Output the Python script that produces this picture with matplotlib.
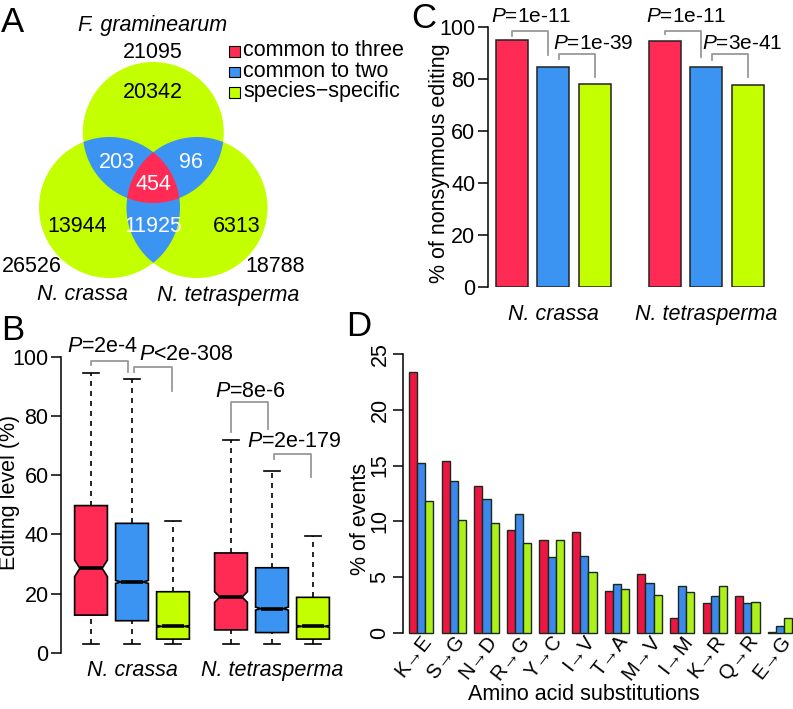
import numpy as np
import matplotlib
matplotlib.use("Agg")
import matplotlib.pyplot as plt
import matplotlib.transforms as mtrans
from matplotlib.patches import Circle, Polygon, Rectangle

plt.rcParams['font.family'] = ['Liberation Sans', 'DejaVu Sans']
plt.rcParams['mathtext.fontset'] = 'custom'
plt.rcParams['mathtext.it'] = 'Liberation Sans:italic'
plt.rcParams['mathtext.rm'] = 'Liberation Sans'

# ---- data ----
groups = ['common to three', 'common to two', 'species\u2212specific']
species = ['N. crassa', 'N. tetrasperma']

# A: venn counts
venn_only = {'Fg': 20342, 'Nc': 13944, 'Nt': 6313}
venn_pair = {'Fg-Nc': 203, 'Fg-Nt': 96, 'Nc-Nt': 11925}
venn_all = 454
venn_total = {'Fg': 21095, 'Nc': 26526, 'Nt': 18788}

# B: editing level boxplots (N. crassa x3, N. tetrasperma x3)
box_q1 = [12.7, 10.8, 4.6, 7.7, 6.8, 4.6]
box_med = [28.5, 23.9, 8.9, 18.8, 14.9, 8.9]
box_q3 = [49.7, 43.7, 20.6, 33.7, 28.7, 18.7]
box_lo = [2.9, 2.9, 2.9, 2.9, 2.9, 2.9]
box_hi = [94.6, 92.6, 44.6, 71.8, 61.5, 39.5]
box_cilo = [25.7, 23.4, 8.6, 17.0, 14.4, 8.6]
box_cihi = [31.3, 24.4, 9.2, 20.6, 15.4, 9.2]
b_pvals = ['$P$=2e-4', '$P$<2e-308', '$P$=8e-6', '$P$=2e-179']

# C: % nonsynonymous editing
nonsyn = [94.9, 84.6, 77.9, 94.6, 84.6, 77.8]
c_pvals = ['$P$=1e-11', '$P$=1e-39', '$P$=1e-11', '$P$=3e-41']

# D: amino acid substitutions
subs = ['K\u2192E', 'S\u2192G', 'N\u2192D', 'R\u2192G', 'Y\u2192C', 'I\u2192V',
        'T\u2192A', 'M\u2192V', 'I\u2192M', 'K\u2192R', 'Q\u2192R', 'E\u2192G']
ev_three = [23.4, 15.4, 13.2, 9.25, 8.35, 9.05, 3.75, 5.3, 1.3, 2.65, 3.3, 0.06]
ev_two = [15.2, 13.6, 12.0, 10.65, 6.8, 6.9, 4.4, 4.5, 4.2, 3.3, 2.7, 0.6]
ev_spec = [11.85, 10.1, 9.9, 8.05, 8.3, 5.5, 3.9, 3.4, 3.7, 4.25, 2.8, 1.3]

colors = ['#FF2B55', '#3C94F2', '#C4FF00']
colors_d = ['#EE1543', '#3C88EC', '#AEF01A']
FS = 15.5

W, H = 793, 709
fig = plt.figure(figsize=(W / 100, H / 100), dpi=100)


def px_axes(x0, y0, x1, y1):
    return fig.add_axes([x0 / W, 1 - y1 / H, (x1 - x0) / W, (y1 - y0) / H])


def ftext(x, y, s, **kw):
    fig.text(x / W, 1 - y / H, s, **kw)


def region_poly(circles, n=720):
    # intersection of circles -> convex polygon
    pts = []
    t = np.linspace(0, 2 * np.pi, n, endpoint=False)
    for i, (cx, cy, r) in enumerate(circles):
        p = np.c_[cx + r * np.cos(t), cy + r * np.sin(t)]
        keep = np.ones(n, bool)
        for j, (ox, oy, orad) in enumerate(circles):
            if j != i:
                keep &= (p[:, 0] - ox) ** 2 + (p[:, 1] - oy) ** 2 <= orad ** 2
        pts.append(p[keep])
    pts = np.vstack(pts)
    c = pts.mean(axis=0)
    return pts[np.argsort(np.arctan2(pts[:, 1] - c[1], pts[:, 0] - c[0]))]


# ---------------- A ----------------
axA = px_axes(0, 0, 400, 320)
axA.set_xlim(0, 400)
axA.set_ylim(320, 0)
axA.axis('off')
r = 70.5
cFg, cNc, cNt = (153.3, 132.5, r), (109.5, 207.5, r), (197.0, 207.5, r)
for c in (cFg, cNc, cNt):
    axA.add_patch(Circle(c[:2], c[2], fc=colors[2], ec='none'))
for pair in ((cFg, cNc), (cFg, cNt), (cNc, cNt)):
    axA.add_patch(Polygon(region_poly(pair), fc=colors[1], ec='none'))
axA.add_patch(Polygon(region_poly((cFg, cNc, cNt)), fc=colors[0], ec='none'))

kw = dict(ha='center', va='center', fontsize=FS)
axA.text(153, 92, str(venn_only['Fg']), **kw)
axA.text(77, 226, str(venn_only['Nc']), **kw)
axA.text(237, 226, str(venn_only['Nt']), **kw)
axA.text(117, 163, str(venn_pair['Fg-Nc']), color='white', **kw)
axA.text(191, 163, str(venn_pair['Fg-Nt']), color='white', **kw)
axA.text(153, 226, str(venn_pair['Nc-Nt']), color='white', **kw)
axA.text(153, 185, str(venn_all), color='white', **kw)
axA.text(153, 52, str(venn_total['Fg']), **kw)
axA.text(32, 267, str(venn_total['Nc']), **kw)
axA.text(275, 267, str(venn_total['Nt']), **kw)
axA.text(153, 25, 'F. graminearum', style='italic', **kw)
axA.text(82, 295, species[0], style='italic', **kw)
axA.text(228, 295, species[1], style='italic', **kw)
for k, (lab, col) in enumerate(zip(groups, colors)):
    yc = 51 + k * 20.5
    axA.add_patch(Rectangle((229, yc - 5), 10.5, 10.5, fc=col, ec='black', lw=0.8))
    axA.text(243, yc, lab, ha='left', va='center', fontsize=FS)

# ---------------- B ----------------
axB = px_axes(61, 356.7, 355, 652.7)
axB.set_ylim(0, 100)
axB.set_xlim(0.268, 7.44)
pos_b = [1, 2, 3, 4.415, 5.415, 6.415]
hw, nf = 0.4, 0.68
for i, x in enumerate(pos_b):
    q1, md, q3 = box_q1[i], box_med[i], box_q3[i]
    lo, hi, cl, ch = box_lo[i], box_hi[i], box_cilo[i], box_cihi[i]
    xs = [x - hw, x + hw, x + hw, x + hw * nf, x + hw, x + hw, x - hw, x - hw, x - hw * nf, x - hw]
    ys = [q1, q1, cl, md, ch, q3, q3, ch, md, cl]
    axB.add_patch(Polygon(np.c_[xs, ys], closed=True, fc=colors[i % 3], ec='black', lw=1.2, zorder=3))
    axB.plot([x - hw * nf, x + hw * nf], [md, md], color='black', lw=2.6, solid_capstyle='butt', zorder=4)
    axB.plot([x, x], [q3, hi], color='black', lw=1.2, ls=(0, (3, 3)), zorder=2)
    axB.plot([x, x], [lo, q1], color='black', lw=1.2, ls=(0, (3, 3)), zorder=2)
    for v in (lo, hi):
        axB.plot([x - hw / 2, x + hw / 2], [v, v], color='black', lw=1.2, zorder=2)

b_brackets = [(1, 1.895, 98.6, 97.3, 94.7), (2.056, 2.97, 96.4, 94.7, 88.5),
              (4.42, 5.317, 84.6, 74.7, 75.6), (5.47, 6.37, 67.1, 65.3, 59.5)]
b_ptext = [(1.28, 103.4), (3.33, 100.9), (4.88, 88.4), (5.95, 71.4)]
for (x1, x2, top, l, rr), (tx, ty), s in zip(b_brackets, b_ptext, b_pvals):
    axB.plot([x1, x1, x2, x2], [l, top, top, rr], color='#999999', lw=1.3, clip_on=False)
    axB.text(tx, ty, s, ha='center', va='center', fontsize=FS)

for s in ('top', 'right', 'bottom'):
    axB.spines[s].set_visible(False)
axB.spines['left'].set_linewidth(1.1)
axB.set_yticks([0, 20, 40, 60, 80, 100])
axB.tick_params(axis='y', labelsize=FS, length=7, width=1.1, pad=2)
axB.set_xticks([2, 5.415])
axB.set_xticklabels(species, style='italic', fontsize=FS)
axB.tick_params(axis='x', length=0, pad=5)
ftext(10, 492, 'Editing level (%)', rotation=90, ha='center', va='center', fontsize=FS)

# ---------------- C ----------------
axC = px_axes(488, 27, 790, 287)
axC.set_ylim(0, 100)
axC.set_xlim(-0.74, 8.69)
pos_c = [0, 1.3, 2.6, 4.78, 6.08, 7.38]
axC.bar(pos_c, nonsyn, width=1.0, color=colors * 2, edgecolor='#222222', linewidth=1.1)
c_brackets = [(0, 1.12, 98.6, 96.7, 89.2), (1.48, 2.6, 89.6, 87.6, 80.6),
              (4.78, 5.9, 98.6, 97.2, 88.6), (6.26, 7.38, 89.6, 87.3, 80.6)]
c_ptext = [(0.625, 103.9), (2.54, 93.7), (5.45, 103.9), (7.2, 93.7)]
for (x1, x2, top, l, rr), (tx, ty), s in zip(c_brackets, c_ptext, c_pvals):
    axC.plot([x1, x1, x2, x2], [l, top, top, rr], color='#999999', lw=1.3, clip_on=False)
    axC.text(tx, ty, s, ha='center', va='center', fontsize=FS - 0.5)
for s in ('top', 'right', 'bottom'):
    axC.spines[s].set_visible(False)
axC.spines['left'].set_linewidth(1.1)
axC.set_yticks([0, 20, 40, 60, 80, 100])
axC.tick_params(axis='y', labelsize=FS, length=7, width=1.1, pad=2)
axC.set_xticks([1.3, 6.08])
axC.set_xticklabels(species, style='italic', fontsize=FS)
axC.tick_params(axis='x', length=0, pad=12)
ftext(440, 163, '% of nonsynmous editing', rotation=90, ha='center', va='center', fontsize=FS)

# ---------------- D ----------------
axD = px_axes(403, 354, 793, 633)
axD.set_ylim(0, 25)
axD.set_xlim(-0.74, 47.1)
xg = np.arange(len(subs)) * 4
for k, (vals, col) in enumerate(zip((ev_three, ev_two, ev_spec), colors_d)):
    axD.bar(xg + k, vals, width=1.0, align='edge', color=col, edgecolor='#1a2a1a',
            linewidth=1.0, clip_on=False)
for s in ('top', 'right', 'bottom'):
    axD.spines[s].set_visible(False)
axD.spines['left'].set_linewidth(1.1)
axD.set_yticks([0, 5, 10, 15, 20, 25])
axD.set_yticklabels(['0', '5', '10', '15', '20', '25'], rotation=90, va='center')
axD.tick_params(axis='y', labelsize=FS, length=7, width=1.1, pad=2)
axD.set_xticks(xg + 1.5)
axD.set_xticklabels(subs, rotation=52, ha='right', va='center', rotation_mode='anchor',
                    fontsize=FS - 1)
axD.tick_params(axis='x', length=0, pad=3.5)
shift = mtrans.ScaledTranslation(0.07, 0, fig.dpi_scale_trans)
for lab in axD.get_xticklabels():
    lab.set_transform(lab.get_transform() + shift)
ftext(361, 519, '% of events', rotation=90, ha='center', va='center', fontsize=FS)
ftext(584, 695, 'Amino acid substitutions', ha='center', va='center', fontsize=FS)

# panel letters
for lab, x, y in (('A', 1, 22), ('B', 1, 331), ('C', 411, 18), ('D', 346, 327)):
    ftext(x, y, lab, ha='left', va='center', fontsize=25)

fig.savefig('out.png', dpi=100)
